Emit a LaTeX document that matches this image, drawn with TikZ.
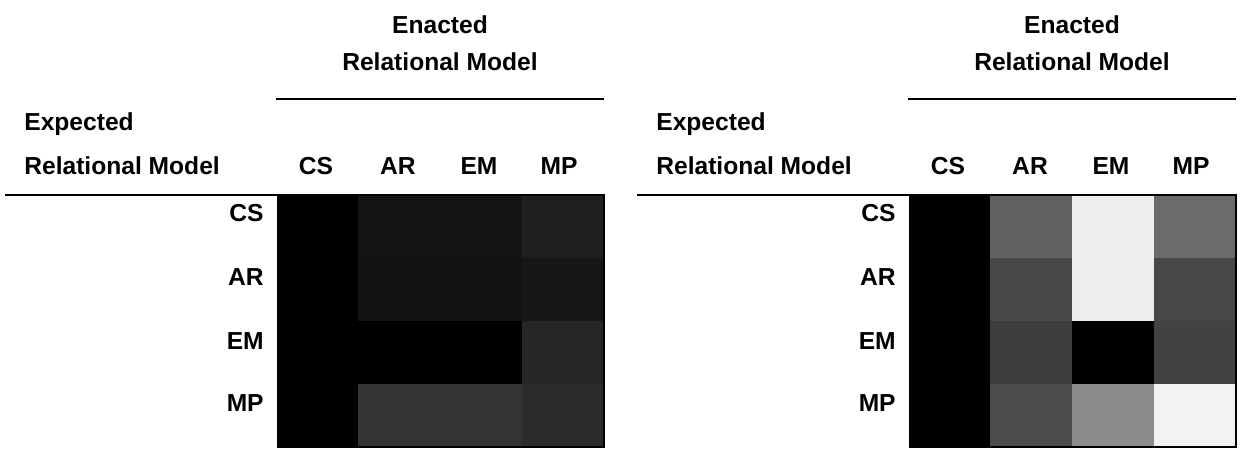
\documentclass[tikz,border=0pt]{standalone}
\usepackage{fontspec}
\setmainfont{Liberation Sans}
\begin{document}
\begin{tikzpicture}[x=0.02cm,y=-0.02cm,
  lab/.style={font=\bfseries\fontsize{14}{16}\selectfont, inner sep=0pt},
  rule/.style={line width=1.2pt},
  frame/.style={line width=0.8pt}]
\useasboundingbox (0,0) rectangle (1242,451);
\foreach \ox/\p in {0/L,632/R}{
  \node[lab,anchor=base] (\p-enacted) at (\ox+440,33) {Enacted};
  \node[lab,anchor=base] (\p-rmtop) at (\ox+440,70) {Relational Model};
  \coordinate (\p-tr1) at (\ox+276,99);
  \coordinate (\p-tr2) at (\ox+604,99);
  \draw[rule] (\p-tr1) -- (\p-tr2);
  \node[lab,anchor=base west] (\p-expected) at (\ox+24,130) {Expected};
  \node[lab,anchor=base west] (\p-rmleft) at (\ox+24,174) {Relational Model};
  \node[lab,anchor=base] (\p-hCS) at (\ox+316,174) {CS};
  \node[lab,anchor=base] (\p-hAR) at (\ox+398,174) {AR};
  \node[lab,anchor=base] (\p-hEM) at (\ox+479,174) {EM};
  \node[lab,anchor=base] (\p-hMP) at (\ox+559,174) {MP};
  \coordinate (\p-br1) at (\ox+5,195);
  \coordinate (\p-br2) at (\ox+604,195);
  \draw[rule] (\p-br1) -- (\p-br2);
  \node[lab,anchor=base east] (\p-rCS) at (\ox+264,221) {CS};
  \node[lab,anchor=base east] (\p-rAR) at (\ox+264,285) {AR};
  \node[lab,anchor=base east] (\p-rEM) at (\ox+264,349) {EM};
  \node[lab,anchor=base east] (\p-rMP) at (\ox+264,411) {MP};
}
% left matrix cells (x: 278 358 440 522 604; y: 195 258 321 384 447)
\foreach \r/\ya/\yb/\a/\b/\c/\d in {
  1/195/258/100/92/92/88,
  2/258/321/100/93/93/91,
  3/321/384/100/100/100/85,
  4/384/447/100/80/80/83}{
  \fill[black!\a] (278,\ya) rectangle (358,\yb);
  \fill[black!\b] (358,\ya) rectangle (440,\yb);
  \fill[black!\c] (440,\ya) rectangle (522,\yb);
  \fill[black!\d] (522,\ya) rectangle (604,\yb);
}
\draw[frame] (278,195) rectangle (604,447);
% right matrix cells
\foreach \r/\ya/\yb/\a/\b/\c/\d in {
  1/195/258/100/62/7/58,
  2/258/321/100/72/7/72,
  3/321/384/100/76/100/74,
  4/384/447/100/70/45/5}{
  \fill[black!\a] (910,\ya) rectangle (990,\yb);
  \fill[black!\b] (990,\ya) rectangle (1072,\yb);
  \fill[black!\c] (1072,\ya) rectangle (1154,\yb);
  \fill[black!\d] (1154,\ya) rectangle (1236,\yb);
}
\draw[frame] (910,195) rectangle (1236,447);
\end{tikzpicture}
\end{document}
